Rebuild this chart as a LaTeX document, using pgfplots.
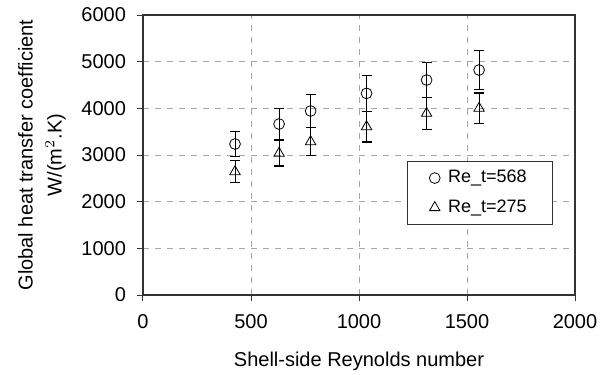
\documentclass[border=0pt]{standalone}
\usepackage{pgfplots}
\pgfplotsset{compat=1.18}
\usepackage{fontspec}
\setmainfont{Liberation Sans}
\begin{document}
\fontsize{10pt}{12pt}\selectfont
\begin{tikzpicture}
\useasboundingbox (-71.5pt,-39.5pt) rectangle (233pt,147.5pt);
\begin{axis}[
  at={(0,0)}, anchor=south west,
  scale only axis, width=216pt, height=140pt,
  xmin=0, xmax=2000, ymin=0, ymax=6000,
  xtick={0,500,...,2000}, ytick={0,1000,...,6000},
  tick align=outside, tick pos=left,
  major tick length=3pt,
  grid=major,
  grid style={dashed, gray!70, line width=0.4pt},
  axis line style={black!80, line width=0.7pt},
  tick style={black!80, line width=0.5pt},
  every tick label/.append style={font=\fontsize{10pt}{12pt}\selectfont},
  yticklabel style={xshift=-2pt},
  xticklabel style={yshift=-3pt},
  /pgf/number format/assume math mode=true,
  /pgf/number format/1000 sep={},
  xlabel={Shell-side Reynolds number},
  xlabel style={font=\fontsize{10pt}{12pt}\selectfont, yshift=-5pt},
  ylabel={Global heat transfer coefficient\\[2.5pt]W/(m$^{2}$.K)},
  ylabel style={font=\fontsize{10pt}{12pt}\selectfont, align=center, yshift=1pt},
  legend style={at={(0.611,0.479)}, anchor=north west, draw=black!80,
    font=\fontsize{9pt}{11pt}\selectfont, inner xsep=11pt, inner ysep=2.5pt,
    row sep=3pt, cells={anchor=west}},
  legend cell align=left,
]
\addplot[only marks, mark=o, mark size=2.7pt, black,
  error bars/.cd, y dir=both, y explicit,
  error bar style={line width=0.5pt},
  error mark options={rotate=90, mark size=2.5pt, line width=0.6pt}]
  coordinates {
  (426,3236) +- (0,270)
  (630,3664) +- (0,330)
  (776,3943) +- (0,350)
  (1035,4321) +- (0,390)
  (1313,4607) +- (0,380)
  (1556,4821) +- (0,420)
  };
\addlegendentry{\hspace{2pt}Re\_t=568}
\addplot[only marks, mark=triangle, mark size=3pt, black,
  error bars/.cd, y dir=both, y explicit,
  error bar style={line width=0.5pt},
  error mark options={rotate=90, mark size=2.5pt, line width=0.6pt}]
  coordinates {
  (426,2643) +- (0,240)
  (630,3036) +- (0,270)
  (776,3286) +- (0,300)
  (1035,3607) +- (0,330)
  (1313,3893) +- (0,340)
  (1556,4000) +- (0,330)
  };
\addlegendentry{\hspace{2pt}Re\_t=275}
\end{axis}
\end{tikzpicture}
\end{document}
